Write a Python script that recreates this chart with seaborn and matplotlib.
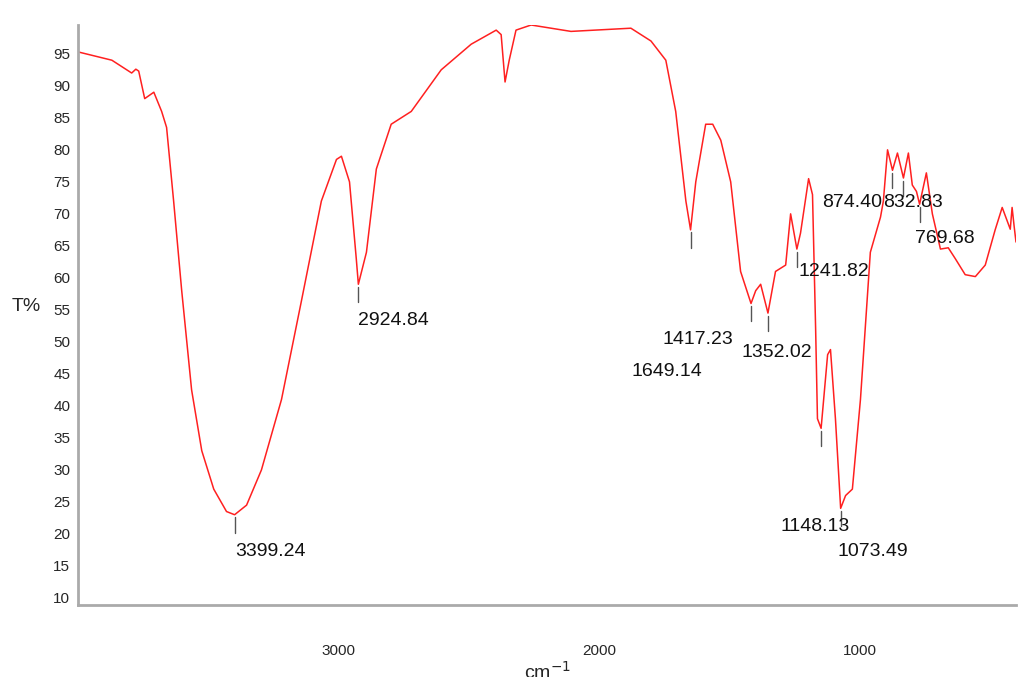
import matplotlib
matplotlib.use("Agg")
import matplotlib.pyplot as plt
import seaborn as sns
import numpy as np
import pandas as pd
from matplotlib.ticker import MultipleLocator, FixedLocator

wavenumber = [4000, 3870, 3794, 3778, 3767, 3744, 3709, 3679, 3660, 3633, 3602, 3564, 3525, 3479, 3430, 3399,
              3353, 3296, 3219, 3142, 3066, 3008, 2989, 2958, 2932, 2924, 2893, 2855, 2798, 2721, 2606, 2491,
              2395, 2376, 2361, 2345, 2319, 2261, 2108, 1878, 1801, 1744, 1706, 1667, 1649, 1629, 1591, 1564,
              1533, 1495, 1457, 1417, 1399, 1380, 1352, 1323, 1284, 1265, 1241, 1227, 1196, 1181, 1169, 1162,
              1148, 1123, 1112, 1093, 1073, 1054, 1028, 997, 959, 920, 909, 893, 874, 855, 832, 813, 798, 782,
              770, 744, 721, 690, 660, 633, 595, 556, 518, 480, 453, 422, 415, 407, 400]
transmittance = [95.3, 94.0, 92.0, 92.6, 92.3, 88.0, 89.0, 86.0, 83.5, 72.0, 58.0, 42.5, 33.0, 27.0, 23.5, 23.0,
                 24.5, 30.0, 41.0, 56.5, 72.0, 78.5, 79.0, 75.0, 63.0, 59.0, 64.0, 77.0, 84.0, 86.0, 92.5, 96.5,
                 98.7, 98.0, 90.6, 94.0, 98.7, 99.5, 98.5, 99.0, 97.0, 94.0, 86.0, 72.0, 67.5, 75.0, 84.0, 84.0,
                 81.5, 75.0, 61.0, 56.0, 58.0, 59.0, 54.5, 61.0, 62.0, 70.0, 64.5, 67.0, 75.5, 73.0, 52.0, 38.0,
                 36.5, 48.0, 48.8, 38.0, 24.0, 26.0, 27.0, 41.0, 64.0, 69.5, 72.0, 80.0, 76.8, 79.5, 75.6, 79.5,
                 74.5, 73.5, 71.5, 76.4, 70.0, 64.5, 64.7, 63.0, 60.5, 60.2, 62.0, 67.5, 71.0, 67.6, 71.0, 68.0, 65.6]

peak_labels = ["3399.24", "2924.84", "1649.14", "1417.23", "1352.02", "1241.82", "874.40", "832.83",
               "769.68", "1148.13", "1073.49"]
peak_x = [3399.24, 2924.84, 1649.14, 1417.23, 1352.02, 1241.82, 874.40, 832.83, 769.68, 1148.13, 1073.49]
peak_y = [23.0, 59.0, 67.5, 56.0, 54.5, 64.5, 76.8, 75.6, 71.5, 36.5, 24.0]
label_x = [3395, 2924, 1874, 1756, 1453, 1234, 1143, 909, 786, 1303, 1085]
label_y = [17.2, 53.4, 45.3, 50.3, 48.3, 61.0, 71.7, 71.7, 66.2, 21.1, 17.2]

sns.set_style("white")
plt.rcParams['font.family'] = ['Liberation Sans', 'DejaVu Sans']
fig = plt.figure(figsize=(10.24, 6.77), dpi=100)
ax = fig.add_axes([78/1024, 72/677, 938/1024, 580/677])
df = pd.DataFrame({"wn": wavenumber, "T": transmittance})
sns.lineplot(data=df, x="wn", y="T", color="#ff2020", lw=1.1, ax=ax, sort=False, estimator=None)

for px, py in zip(peak_x, peak_y):
    ax.plot([px, px], [py - 0.4, py - 2.8], color="#555555", lw=1.0)
for lab, tx, ty in zip(peak_labels, label_x, label_y):
    ax.text(tx, ty, lab, fontsize=14, ha="left", va="center", color="#111111")

ax.set_xlim(4000, 400)
ax.set_ylim(8.9, 99.5)
ax.xaxis.set_major_locator(FixedLocator([3000, 2000, 1000]))
ax.xaxis.set_minor_locator(MultipleLocator(200))
ax.yaxis.set_minor_locator(MultipleLocator(1))
ax.set_yticks(np.arange(10, 96, 5))
ax.set_xticklabels(["3000", "2000", "1000"])
ax.tick_params(axis="both", which="both", direction="out", color="#222222", labelsize=11)
ax.tick_params(axis="both", which="major", length=2, width=1.5)
ax.tick_params(axis="both", which="minor", length=1.5, width=1.5)
ax.tick_params(axis="x", pad=26)
for s in ["top", "right"]:
    ax.spines[s].set_visible(False)
for s in ["left", "bottom"]:
    ax.spines[s].set_color("#aaaaaa")
    ax.spines[s].set_linewidth(2)
ax.set_xlabel("cm$^{-1}$", fontsize=14, labelpad=2)
ax.set_ylabel("T%", fontsize=14, rotation=0, labelpad=14)
ax.yaxis.set_label_coords(-0.055, 0.5)
fig.savefig("out.png", dpi=100)
